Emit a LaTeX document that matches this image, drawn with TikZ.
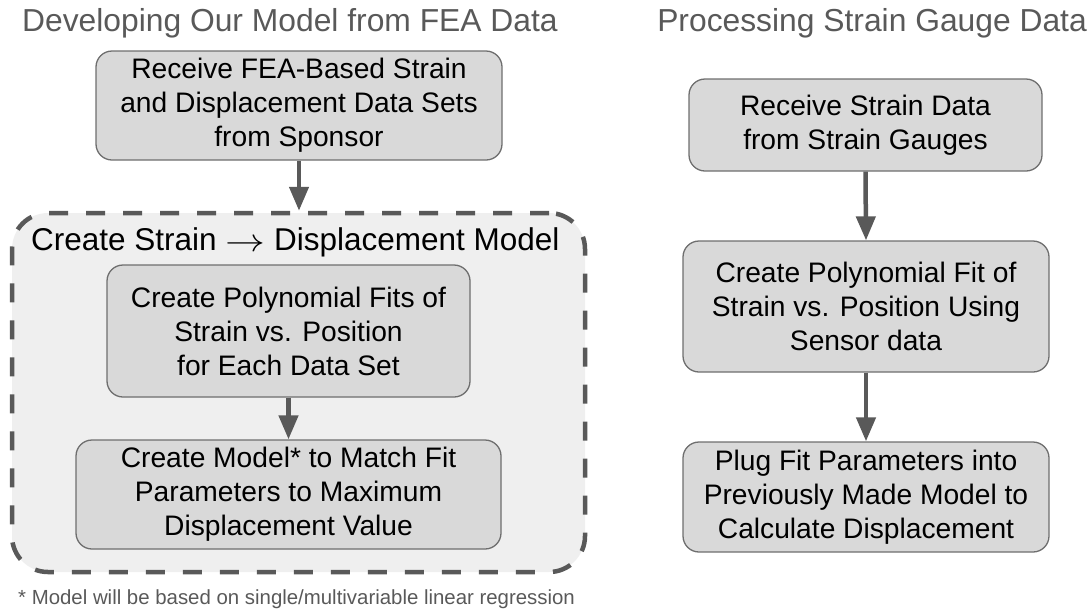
\documentclass[tikz,border=0pt]{standalone}
\usepackage{fontspec}
\setmainfont{Liberation Sans}
\usetikzlibrary{arrows.meta}
\definecolor{boxfill}{HTML}{D9D9D9}
\definecolor{boxline}{HTML}{6E6E6E}
\definecolor{darkg}{HTML}{595959}
\definecolor{contfill}{HTML}{EFEFEF}
\begin{document}
\begin{tikzpicture}[x=1pt,y=-1pt,
  stepbox/.style={draw=boxline, line width=1.3pt, fill=boxfill, rounded corners=16pt,
    align=center, inner sep=0pt, text=black, font=\fontsize{28.2}{34}\selectfont},
  container/.style={draw=darkg, line width=4.5pt, dash pattern=on 19pt off 18pt,
    fill=contfill, rounded corners=36pt, inner sep=0pt},
  flow/.style={draw=darkg, line width=4.5pt, -{Triangle[width=19pt,length=24pt]}},
  title/.style={inner sep=0pt, text=darkg, font=\fontsize{31.8}{36}\selectfont},
  label/.style={inner sep=0pt, text=black, font=\fontsize{31.5}{36}\selectfont},
  note/.style={inner sep=0pt, text=darkg, font=\fontsize{20.4}{24}\selectfont}]
\useasboundingbox (0,0) rectangle (1091,611);

% titles
\node[title, anchor=base west] (t1) at (22,31) {Developing Our Model from FEA Data};
\node[title, anchor=base east] (t2) at (1087,31) {Processing Strain Gauge Data};

% left column
\node[stepbox, minimum width=406pt, minimum height=109pt] (A) at (299,105.5)
  {Receive FEA-Based Strain\\and Displacement Data Sets\\from Sponsor};
\node[container, minimum width=573pt, minimum height=359pt] (cont) at (298.5,392.5) {};
\node[label, anchor=base west] (contlbl) at (31,250)
  {Create Strain \raisebox{-1pt}{\scalebox{1.6}[1.3]{$\rightarrow$}} Displacement Model};
\node[stepbox, minimum width=363pt, minimum height=132pt] (B) at (288.5,331)
  {Create Polynomial Fits of\\Strain vs. Position\\for Each Data Set};
\node[stepbox, minimum width=425pt, minimum height=109pt] (C) at (288.5,494.5)
  {Create Model* to Match Fit\\Parameters to Maximum\\Displacement Value};
\node[note, anchor=base west] (fn) at (18,604) {* Model will be based on single/multivariable linear regression};

% right column
\node[stepbox, minimum width=353pt, minimum height=92pt] (D) at (865.5,125)
  {Receive Strain Data\\from Strain Gauges};
\node[stepbox, minimum width=366pt, minimum height=131pt] (E) at (866,306.5)
  {Create Polynomial Fit of\\Strain vs. Position Using\\Sensor data};
\node[stepbox, minimum width=366pt, minimum height=110pt] (F) at (866,497)
  {Plug Fit Parameters into\\Previously Made Model to\\Calculate Displacement};

% connectors
\draw[flow] (A.south) -- (A.south |- cont.north);
\draw[flow] (B.south) -- (C.north);
\draw[flow] (D.south) -- (E.north);
\draw[flow] (E.south) -- (F.north);
\end{tikzpicture}
\end{document}
